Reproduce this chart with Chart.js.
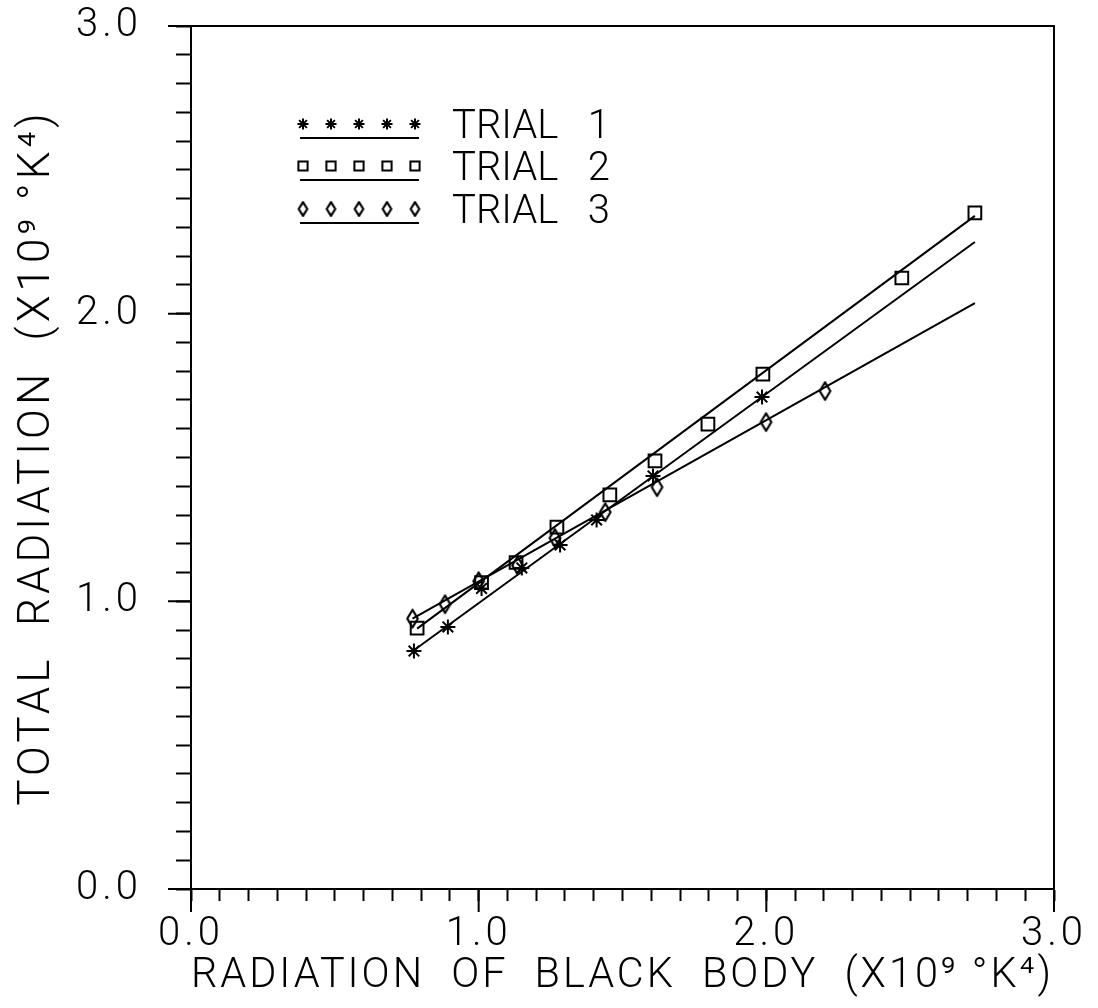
<!DOCTYPE html>
<html><head><meta charset="utf-8">
<script src="https://cdn.jsdelivr.net/npm/chart.js@4.4.1/dist/chart.umd.min.js"></script>
<style>html,body{margin:0;padding:0;background:#fff;}#wrap{width:1098px;height:1008px;}</style>
</head><body><div id="wrap"><canvas id="c" width="1098" height="1008"></canvas></div>
<script>
// ---- data ----
const xTitle = 'RADIATION  OF  BLACK  BODY  (X10⁹ °K⁴)';
const yTitle = 'TOTAL  RADIATION  (X10⁹ °K⁴)';
const tickLabels = ['0.0', '1.0', '2.0', '3.0'];
const seriesNames = ['TRIAL   1', 'TRIAL   2', 'TRIAL   3'];

const trial1X = [0.775, 0.893, 1.01, 1.15, 1.283, 1.41, 1.606, 1.985];
const trial1Y = [0.827, 0.911, 1.045, 1.116, 1.196, 1.283, 1.436, 1.71];

const trial2X = [0.786, 1.01, 1.13, 1.272, 1.456, 1.613, 1.797, 1.988, 2.471, 2.725];
const trial2Y = [0.907, 1.065, 1.135, 1.258, 1.37, 1.488, 1.616, 1.79, 2.124, 2.35];

const trial3X = [0.77, 0.883, 1.0, 1.135, 1.265, 1.44, 1.62, 1.999, 2.204];
const trial3Y = [0.94, 0.99, 1.07, 1.125, 1.22, 1.31, 1.397, 1.623, 1.731];

const fit1X = [0.775, 2.725]; const fit1Y = [0.83, 2.249];
const fit2X = [0.786, 2.725]; const fit2Y = [0.905, 2.34];
const fit3X = [0.77, 2.725];  const fit3Y = [0.94, 2.037];

// ---- drawing ----
const FAMILY = 'Roboto, "DejaVu Sans", sans-serif';
const FONT = {family: FAMILY, size: 40, weight: '300'};
const XTITLE_FONT = {family: FAMILY, size: 42, weight: '300'};
const YTITLE_FONT = {family: FAMILY, size: 44, weight: '300'};
const majorValues = tickLabels.map(Number);
const pts = (xs, ys) => xs.map((x, i) => ({x, y: ys[i]}));

function makeDiamond(w, h, lw) {
  const c = document.createElement('canvas');
  c.width = w + lw * 2; c.height = h + lw * 2;
  const g = c.getContext('2d');
  g.lineWidth = lw; g.strokeStyle = '#000'; g.lineJoin = 'round';
  g.beginPath();
  g.moveTo(c.width / 2, lw); g.lineTo(c.width - lw, c.height / 2);
  g.lineTo(c.width / 2, c.height - lw); g.lineTo(lw, c.height / 2);
  g.closePath(); g.stroke();
  return c;
}
const diamondBig = makeDiamond(11, 18, 2.2);
const diamondSmall = makeDiamond(9, 14, 2.2);

const markerStyles = [
  {pointStyle: 'star', radius: 7.5, legendRadius: 5.5},
  {pointStyle: 'rect', radius: 9, legendRadius: 6.5},
  {pointStyle: diamondBig, radius: 9, legendStyle: diamondSmall, legendRadius: 7}
];

function isMajor(v) { return Math.abs(v - Math.round(v)) < 1e-6; }

// wider letter pitch for the axis texts, like the plotter font of the original.
// y texts and tick labels are drawn before the datasets, the x grid+title layer after them.
const spacingPlugin = {
  id: 'spacing',
  beforeDraw(chart) { chart.ctx.letterSpacing = '4px'; },
  beforeDatasetsDraw(chart) { chart.ctx.letterSpacing = '0px'; },
  afterDatasetsDraw(chart) { chart.ctx.letterSpacing = '3px'; },
  afterDraw(chart) { chart.ctx.letterSpacing = '0px'; }
};

const framePlugin = {
  id: 'frame',
  afterDraw(chart) {
    const {ctx, chartArea: a, scales: {x, y}} = chart;
    ctx.save();
    ctx.strokeStyle = '#000'; ctx.lineWidth = 2;
    ctx.beginPath();
    for (const v of majorValues) {
      const px = x.getPixelForValue(v);
      ctx.moveTo(px, a.bottom); ctx.lineTo(px, a.bottom + 23);
      const py = y.getPixelForValue(v);
      ctx.moveTo(a.left, py); ctx.lineTo(a.left - 23, py);
    }
    ctx.moveTo(a.left, a.top); ctx.lineTo(a.right, a.top); ctx.lineTo(a.right, a.bottom);
    ctx.stroke();
    ctx.restore();
  }
};

function drawMarker(ctx, style, r, x, y) {
  if (Chart.helpers && Chart.helpers.drawPoint) {
    Chart.helpers.drawPoint(ctx, {pointStyle: style, radius: r, rotation: 0, borderWidth: 2}, x, y);
  }
}

const legendPlugin = {
  id: 'plotLegend',
  afterDraw(chart) {
    const {ctx} = chart;
    const rows = [124, 166, 209];
    ctx.save();
    ctx.letterSpacing = '0px';
    seriesNames.forEach((name, i) => {
      const m = markerStyles[i];
      const ry = rows[i];
      for (let k = 0; k < 5; k++) {
        ctx.strokeStyle = '#000'; ctx.fillStyle = 'rgba(0,0,0,0)'; ctx.lineWidth = 2;
        drawMarker(ctx, m.legendStyle || m.pointStyle, m.legendRadius, 303 + k * 28, ry);
      }
      ctx.beginPath();
      ctx.strokeStyle = '#000'; ctx.lineWidth = 2;
      ctx.moveTo(300, ry + 14); ctx.lineTo(419, ry + 14);
      ctx.stroke();
      ctx.fillStyle = '#000';
      ctx.font = `${FONT.weight} ${FONT.size}px ${FONT.family}`;
      ctx.textBaseline = 'alphabetic'; ctx.textAlign = 'left';
      ctx.fillText(name, 452, ry + 14);
    });
    ctx.restore();
  }
};

function scatterSet(label, xs, ys, m) {
  return {label, data: pts(xs, ys), showLine: false, pointStyle: m.pointStyle, pointRadius: m.radius,
    pointHoverRadius: m.radius, borderColor: '#000', backgroundColor: 'rgba(0,0,0,0)', borderWidth: 2, pointBorderWidth: 2};
}
function fitSet(label, xs, ys) {
  return {label, data: pts(xs, ys), showLine: true, pointRadius: 0, borderColor: '#000', borderWidth: 2, fill: false, tension: 0};
}

function build() {
  new Chart(document.getElementById('c'), {
    type: 'scatter',
    data: {
      datasets: [
        fitSet(seriesNames[0] + ' fit', fit1X, fit1Y),
        fitSet(seriesNames[1] + ' fit', fit2X, fit2Y),
        fitSet(seriesNames[2] + ' fit', fit3X, fit3Y),
        scatterSet(seriesNames[0], trial1X, trial1Y, markerStyles[0]),
        scatterSet(seriesNames[1], trial2X, trial2Y, markerStyles[1]),
        scatterSet(seriesNames[2], trial3X, trial3Y, markerStyles[2])
      ]
    },
    options: {
      responsive: false, animation: false, devicePixelRatio: 1,
      layout: {padding: {top: 26, right: 44, bottom: 0, left: 0}},
      plugins: {legend: {display: false}, tooltip: {enabled: false}},
      scales: {
        x: {
          type: 'linear', min: 0, max: 3, position: 'bottom',
          ticks: {stepSize: 0.1, autoSkip: false, maxRotation: 0, padding: 10, color: '#000', font: FONT,
            callback: v => isMajor(v) ? tickLabels[Math.round(v)] : ''},
          grid: {z: 1, drawOnChartArea: false, drawTicks: true, tickLength: 12, tickColor: '#000', tickWidth: 2, color: '#000'},
          border: {z: 2, display: true, color: '#000', width: 2},
          title: {display: true, text: xTitle, color: '#000', font: XTITLE_FONT, padding: {top: 0, bottom: 6}},
          afterFit: s => { s.height = 119; s.paddingLeft = 0; s.paddingRight = 0; }
        },
        y: {
          type: 'linear', min: 0, max: 3, position: 'left',
          ticks: {stepSize: 0.1, autoSkip: false, padding: 34, color: '#000', font: FONT,
            callback: v => isMajor(v) ? tickLabels[Math.round(v)] : ''},
          grid: {drawOnChartArea: false, drawTicks: true, tickLength: 15, tickColor: '#000', tickWidth: 2, color: '#000'},
          border: {display: true, color: '#000', width: 2},
          title: {display: true, text: yTitle, color: '#000', font: YTITLE_FONT, padding: {top: 12, bottom: 0}},
          afterFit: s => { s.width = 191; s.paddingTop = 0; s.paddingBottom = 0; }
        }
      }
    },
    plugins: [spacingPlugin, framePlugin, legendPlugin]
  });
}
(document.fonts && document.fonts.load ? document.fonts.load('300 40px Roboto') : Promise.resolve()).then(build, build);
</script></body></html>
